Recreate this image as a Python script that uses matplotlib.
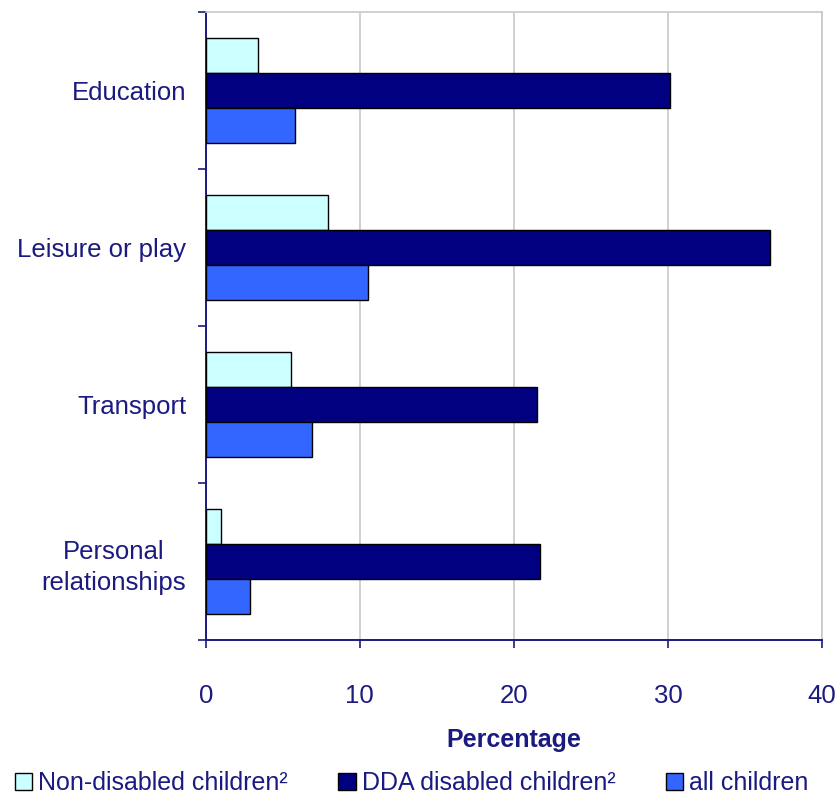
import numpy as np
import matplotlib
matplotlib.use("Agg")
import matplotlib.pyplot as plt

plt.rcParams["font.family"] = ["Liberation Sans", "DejaVu Sans"]

# 데이터
categories = ["Education", "Leisure or play", "Transport", "Personal\nrelationships"]
series_names = ["Non-disabled children²", "DDA disabled children²", "all children"]
non_disabled = [3.4, 7.9, 5.5, 1.0]
dda_disabled = [30.1, 36.6, 21.5, 21.7]
all_children = [5.8, 10.5, 6.9, 2.9]
x_ticks = [0, 10, 20, 30, 40]

colors = ["#CCFFFF", "#000080", "#3366FF"]
navy = "#1a1a80"

fig = plt.figure(figsize=(8.4, 8.08), dpi=100)
ax = fig.add_axes([0.245, 0.208, 0.7336, 0.777])

n = len(categories)
centers = np.arange(n)
h = 0.223
for i, (vals, name) in enumerate(zip([non_disabled, dda_disabled, all_children], series_names)):
    ax.barh(centers + (i - 1) * h, vals, height=h, color=colors[i],
            edgecolor="black", linewidth=1.0, label=name, zorder=3)

ax.set_xlim(0, 40)
ax.set_ylim(n - 0.5, -0.5)
ax.set_xticks(x_ticks)
ax.set_xticklabels([str(t) for t in x_ticks])
ax.xaxis.grid(True, color="#c8c8c8", linewidth=1.2, zorder=0)

# y 눈금: 카테고리 경계에 눈금, 라벨은 가운데
ax.set_yticks(np.arange(-0.5, n, 1.0))
ax.set_yticklabels([])
ax.set_yticks(centers, minor=True)
ax.set_yticklabels(categories, minor=True)
ax.tick_params(axis="y", which="minor", length=0, pad=14, labelsize=18.5, labelcolor=navy)
ax.tick_params(axis="y", which="major", length=6, color=navy, width=1.2)
ax.tick_params(axis="x", length=6, color=navy, width=1.2, labelsize=18.5,
               labelcolor=navy, pad=26)
for lbl in ax.get_yticklabels(minor=True):
    lbl.set_multialignment("center")
    lbl.set_linespacing(1.35)

for s in ["left", "bottom"]:
    ax.spines[s].set_color(navy)
    ax.spines[s].set_linewidth(1.4)
for s in ["top", "right"]:
    ax.spines[s].set_color("#c8c8c8")
    ax.spines[s].set_linewidth(1.2)

ax.set_xlabel("Percentage", fontsize=18, fontweight="bold", color=navy, labelpad=14)

leg = fig.legend(loc="lower center", bbox_to_anchor=(0.49, -0.012), ncol=3,
                 frameon=False, fontsize=18, handlelength=0.7, handleheight=0.7,
                 handletextpad=0.25, columnspacing=2.0)
for t in leg.get_texts():
    t.set_color(navy)

fig.savefig("out.png", dpi=100)
